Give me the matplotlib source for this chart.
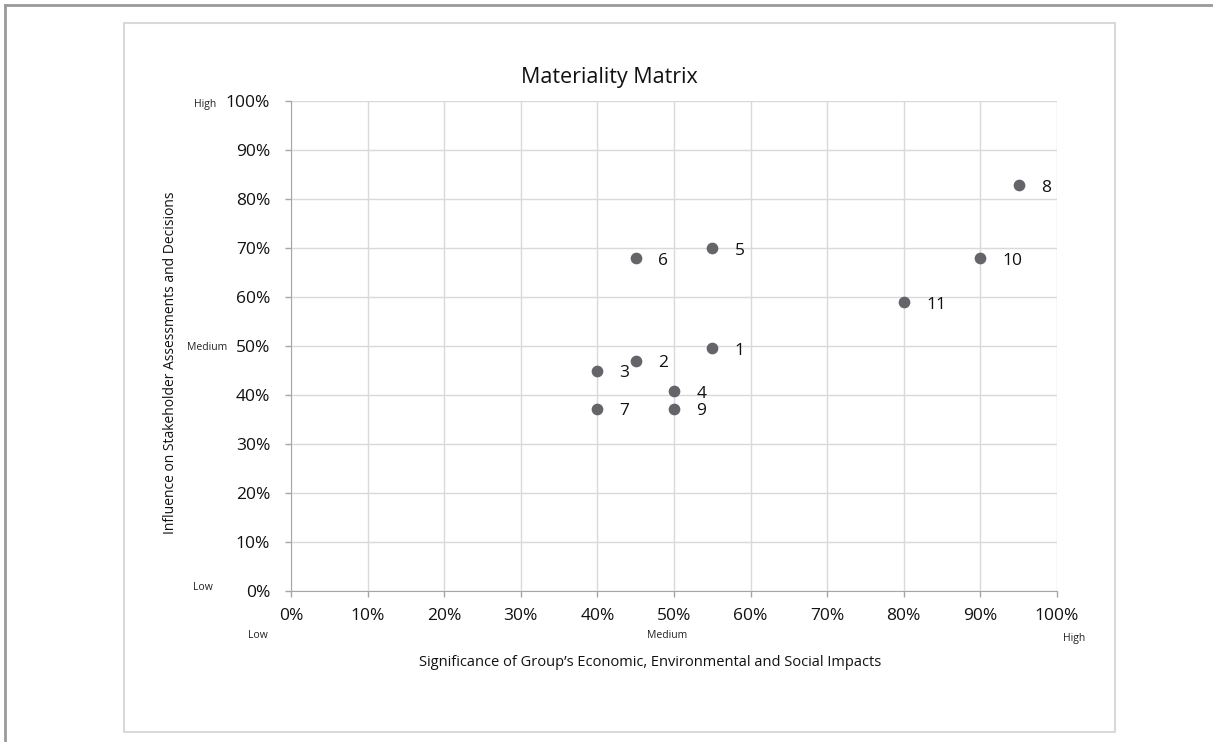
import numpy as np
import matplotlib.pyplot as plt
from matplotlib.patches import Rectangle
from matplotlib.lines import Line2D
from matplotlib.ticker import PercentFormatter

plt.rcParams['font.family'] = ['Open Sans', 'DejaVu Sans']

# issue number, significance (x), influence (y)
labels = ["1", "2", "3", "4", "5", "6", "7", "8", "9", "10", "11"]
significance = [0.55, 0.45, 0.40, 0.50, 0.55, 0.45, 0.40, 0.95, 0.50, 0.90, 0.80]
influence = [0.495, 0.47, 0.45, 0.408, 0.70, 0.68, 0.372, 0.828, 0.372, 0.68, 0.59]

ticks = np.arange(0, 1.01, 0.1)

W, H = 1213, 742
fig = plt.figure(figsize=(W / 100, H / 100), dpi=100)

# outer border (top + left) and chart-area frame
fig.add_artist(Line2D([5 / W, 1], [1 - 5 / H, 1 - 5 / H], color="#9a9a9a", lw=2))
fig.add_artist(Line2D([5 / W, 5 / W], [0, 1 - 5 / H], color="#9a9a9a", lw=2))
fig.add_artist(Rectangle((124 / W, 1 - 732 / H), (1115 - 124) / W, (732 - 23) / H,
                         fill=False, edgecolor="#d9d9d9", lw=1.5))

ax = fig.add_axes([291 / W, 1 - 591 / H, (1057 - 291) / W, (591 - 101) / H])
ax.scatter(significance, influence, s=55, color="#646469", zorder=3, clip_on=False)
for lab, x, y in zip(labels, significance, influence):
    ax.annotate(lab, (x, y), xytext=(16, -2), textcoords="offset points",
                va="center", ha="left", fontsize=12.5, color="#111111")

ax.set_xlim(0, 1)
ax.set_ylim(0, 1)
ax.set_xticks(ticks)
ax.set_yticks(ticks)
ax.xaxis.set_major_formatter(PercentFormatter(1.0, decimals=0))
ax.yaxis.set_major_formatter(PercentFormatter(1.0, decimals=0))
ax.tick_params(axis="both", labelsize=12.5, colors="#a6a6a6", labelcolor="#111111", length=4, width=1)
ax.tick_params(axis="x", pad=8)
ax.tick_params(axis="y", pad=11)
ax.grid(True, color="#d9d9d9", lw=1)
ax.set_axisbelow(True)
for side in ["top", "right"]:
    ax.spines[side].set_visible(False)
for side in ["left", "bottom"]:
    ax.spines[side].set_color("#a6a6a6")

fig.text(609 / W, 1 - 78 / H, "Materiality Matrix", ha="center", va="center",
         fontsize=15.5, color="#111111")
fig.text(650 / W, 1 - 662 / H, "Significance of Group\u2019s Economic, Environmental and Social Impacts",
         ha="center", va="center", fontsize=10.5, color="#111111")
fig.text(171 / W, 1 - 363 / H, "Influence on Stakeholder Assessments and Decisions",
         ha="center", va="center", rotation=90, fontsize=10, color="#111111")

# low / medium / high markers on both axes
small = dict(ha="center", va="center", fontsize=7.5, color="#222222")
fig.text(258 / W, 1 - 636 / H, "Low", **small)
fig.text(667 / W, 1 - 636 / H, "Medium", **small)
fig.text(1074 / W, 1 - 639 / H, "High", **small)
fig.text(205 / W, 1 - 105 / H, "High", **small)
fig.text(207 / W, 1 - 347 / H, "Medium", **small)
fig.text(203 / W, 1 - 588 / H, "Low", **small)

fig.savefig("out.png", dpi=100, facecolor="white")
